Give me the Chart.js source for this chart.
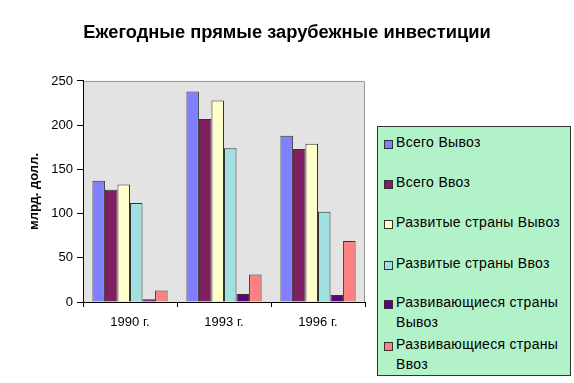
<!DOCTYPE html>
<html>
<head>
<meta charset="utf-8">
<script src="https://cdn.jsdelivr.net/npm/chart.js@4"></script>
<style>
  html, body { margin: 0; padding: 0; background: #fff; }
  #wrap { position: relative; width: 574px; height: 383px; font-family: "Liberation Sans", Arial, sans-serif; }
  #legend { position: absolute; left: 377px; top: 126px; width: 192px; height: 248px; background: #b2f2c8; border: 1px solid #333; box-sizing: content-box; }
  .item { position: absolute; left: 18px; font-size: 14px; line-height: 20px; color: #000; white-space: pre; letter-spacing: 0.3px; }
  .mark { position: absolute; left: 6px; width: 7px; height: 7px; border: 1px solid #333; }
</style>
</head>
<body>
<div id="wrap">
  <canvas id="c" width="574" height="383"></canvas>
  <div id="legend"></div>
</div>
<script>
const categories = ["1990 г.", "1993 г.", "1996 г."];
const seriesNames = ["Всего Вывоз", "Всего Ввоз", "Развитые страны Вывоз", "Развитые страны Ввоз", "Развивающиеся страны\nВывоз", "Развивающиеся страны\nВвоз"];
const totalOut = [137, 238, 188];
const totalIn = [127, 207, 173];
const developedOut = [133, 228, 179];
const developedIn = [112, 174, 102];
const developingOut = [3, 9, 8];
const developingIn = [13, 31, 69];
const yTicks = [0, 50, 100, 150, 200, 250];
const seriesValues = [totalOut, totalIn, developedOut, developedIn, developingOut, developingIn];
const seriesColors = ["#8080ff", "#802060", "#ffffcc", "#a0e0e0", "#600080", "#ff8080"];
const legendTops = [5, 45, 85, 126, 165, 207];

const plotBg = {
  id: 'plotBg',
  beforeDraw(chart) {
    const a = chart.chartArea, ctx = chart.ctx;
    ctx.save();
    ctx.fillStyle = '#e3e3e3';
    ctx.fillRect(a.left, a.top, a.right - a.left, a.bottom - a.top);
    ctx.strokeStyle = '#999';
    ctx.lineWidth = 1;
    ctx.beginPath();
    ctx.moveTo(a.left, a.top + 0.5);
    ctx.lineTo(a.right - 0.5, a.top + 0.5);
    ctx.lineTo(a.right - 0.5, a.bottom);
    ctx.stroke();
    ctx.restore();
  }
};

new Chart(document.getElementById('c'), {
  type: 'bar',
  data: {
    labels: categories,
    datasets: seriesValues.map((v, i) => ({
      label: seriesNames[i].replace('\n', ' '),
      data: v,
      backgroundColor: seriesColors[i],
      borderColor: '#333',
      borderWidth: 1,
      categoryPercentage: 0.8,
      barPercentage: 1.0
    }))
  },
  options: {
    responsive: false,
    animation: false,
    layout: { padding: 0 },
    plugins: {
      legend: { display: false },
      tooltip: { enabled: false },
      title: {
        display: true,
        text: 'Ежегодные прямые зарубежные инвестиции',
        color: '#000',
        font: { family: 'Liberation Sans', size: 18.3, weight: 'bold' },
        padding: { top: 22, bottom: 37 }
      }
    },
    scales: {
      x: {
        afterFit(s) { s.height = 81; },
        grid: { drawOnChartArea: false, offset: true, tickLength: 5, color: '#000' },
        border: { color: '#000' },
        ticks: { color: '#000', font: { family: 'Liberation Sans', size: 13 }, padding: 8 }
      },
      y: {
        min: 0, max: 250,
        afterFit(s) { s.width = 83; },
        afterBuildTicks(s) { s.ticks = yTicks.map(v => ({ value: v })); },
        grid: { drawOnChartArea: false, tickLength: 6, color: '#000' },
        border: { color: '#000' },
        ticks: { color: '#000', font: { family: 'Liberation Sans', size: 13 }, padding: 4 },
        title: {
          display: true,
          text: 'млрд. долл.',
          color: '#000',
          font: { family: 'Liberation Sans', size: 13, weight: 'bold' },
          padding: { top: 27, bottom: 0 }
        }
      },
      spacer: {
        position: 'right',
        min: 0, max: 1,
        afterFit(s) { s.width = 209; },
        grid: { display: false },
        border: { display: false },
        ticks: { display: false }
      }
    }
  },
  plugins: [plotBg]
});

const lg = document.getElementById('legend');
seriesNames.forEach((name, i) => {
  const it = document.createElement('div');
  it.className = 'item';
  it.style.top = legendTops[i] + 'px';
  it.textContent = name;
  const m = document.createElement('div');
  m.className = 'mark';
  m.style.top = (legendTops[i] + 8) + 'px';
  m.style.background = seriesColors[i];
  lg.appendChild(m);
  lg.appendChild(it);
});
</script>
</body>
</html>
